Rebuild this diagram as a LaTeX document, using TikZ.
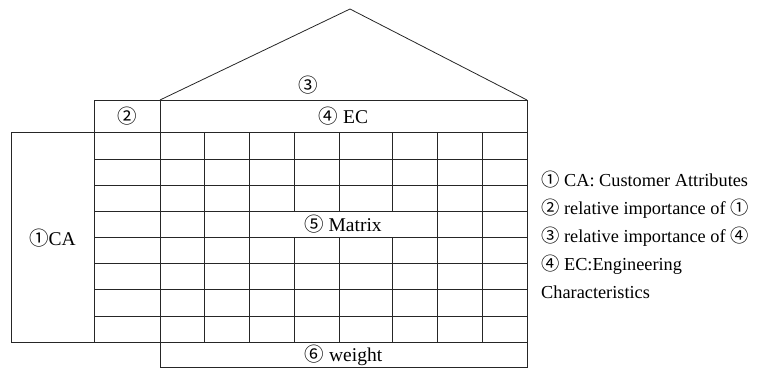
\documentclass[tikz,border=0pt]{standalone}
\usepackage{fontspec}
\usepackage{tikz}
\setmainfont{Liberation Serif}
\newfontfamily\qfdcirc{Noto Sans CJK KR}
\newcommand{\qfdnum}[1]{{\qfdcirc #1}}
\tikzset{
  qfdline/.style={draw=black!85,line width=0.8pt},
  qfdlabel/.style={font=\fontsize{19.5}{21}\selectfont,inner sep=0pt},
  qfdlegend/.style={font=\fontsize{18.3}{20}\selectfont,inner sep=0pt,anchor=base west}
}

\begin{document}
\begin{tikzpicture}[x=1pt,y=-1pt]
  \useasboundingbox (0,0) rectangle (776,368);
  % roof of the house
  \coordinate (roofL) at (160,100);
  \coordinate (roofR) at (527,100);
  \coordinate (apex) at (350,9);
  \draw[qfdline] (roofL) -- (apex) -- (roofR);
  % header cells
  \draw[qfdline] (94,100) rectangle (160,132);
  \draw[qfdline] (160,100) rectangle (527,132);
  % customer attributes block
  \draw[qfdline] (11,132) rectangle (94,342);
  % matrix rows and columns
  \foreach \y in {159,185,211,237,263,289,316,342}
    \draw[qfdline] (94,\y) -- (527,\y);
  \foreach \x in {94,160,204,249,437,482,527}
    \draw[qfdline] (\x,132) -- (\x,342);
  \foreach \x in {294,339,392} {
    \draw[qfdline] (\x,132) -- (\x,211);
    \draw[qfdline] (\x,237) -- (\x,342);
  }
  % weight row
  \draw[qfdline] (160,342) rectangle (527,367);

  \node[qfdlabel] (roof) at (308,85) {\qfdnum{③}};
  \node[qfdlabel] (imp) at (127,116) {\qfdnum{②}};
  \node[qfdlabel] (ec) at (343.5,116) {\qfdnum{④} EC};
  \node[qfdlabel] (ca) at (52.5,238) {\qfdnum{①}CA};
  \node[qfdlabel] (matrix) at (343,224) {\qfdnum{⑤} Matrix};
  \node[qfdlabel] (weight) at (343.5,355) {\qfdnum{⑥} weight};

  % legend
  \node[qfdlegend] (leg1) at (541,186) {\qfdnum{①} CA: Customer Attributes};
  \node[qfdlegend] (leg2) at (541,214) {\qfdnum{②} relative importance of \qfdnum{①}};
  \node[qfdlegend] (leg3) at (541,242) {\qfdnum{③} relative importance of \qfdnum{④}};
  \node[qfdlegend] (leg4) at (541,270) {\qfdnum{④} EC:Engineering};
  \node[qfdlegend] (leg5) at (541,298) {Characteristics};
\end{tikzpicture}
\end{document}
